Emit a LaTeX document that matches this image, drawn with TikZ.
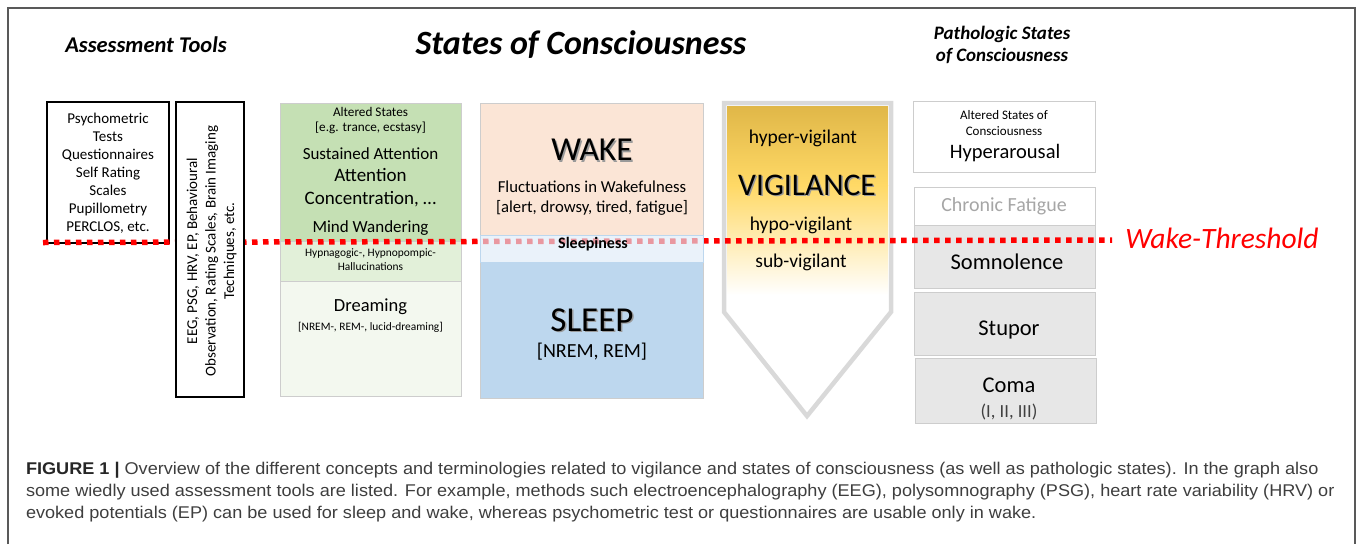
\documentclass[tikz,border=0pt]{standalone}
\usepackage{fontspec}
\setmainfont{Carlito}
\newfontfamily\capfont[FakeStretch=1.065]{Liberation Sans}
\newcommand{\fsz}[2]{\fontsize{#1}{#2}\selectfont}

\definecolor{altgreen}{RGB}{197,224,180}
\definecolor{hypgreen}{RGB}{226,240,217}
\definecolor{dreamgreen}{RGB}{243,248,239}
\definecolor{wakepink}{RGB}{251,229,214}
\definecolor{sleepblue}{RGB}{189,215,238}
\definecolor{sleepyblue}{RGB}{222,235,247}
\definecolor{vigigold}{RGB}{224,183,72}
\definecolor{vigiyellow}{RGB}{255,217,102}
\definecolor{pathgray}{RGB}{231,231,231}
\definecolor{edgegray}{RGB}{205,205,205}
\definecolor{threshred}{RGB}{255,0,0}
\definecolor{captext}{RGB}{62,62,62}

\begin{document}
\begin{tikzpicture}[x=1pt,y=-1pt,
    every node/.style={inner sep=0pt,outer sep=0pt},
    tool/.style={draw=black,line width=1.8pt,fill=white,anchor=north west},
    state/.style={draw=edgegray,line width=1pt,anchor=north west},
    patho/.style={draw=edgegray,line width=1pt,fill=pathgray,anchor=north west,minimum width=181},
    head/.style={font=\fsz{#1}{#1}\bfseries\itshape},
    txt/.style={font=\fsz{#1}{#1}},
    shadowtxt/.style={font=\fsz{#1}{#1},text=black!40},
    threshold/.style={draw=threshred,line width=5.5pt,dash pattern=on 5.5pt off 5.5pt}]
\useasboundingbox (0,0) rectangle (1358,544);
\draw[black!65,line width=1.5pt] (8,544) -- (8,8) -- (1355,8) -- (1355,544);

% headings
\node[head=22.5] (toolshead) at (146,45) {Assessment Tools};
\node[head=34] (stateshead) at (581,45) {States of Consciousness};
\node[align=center,font=\fsz{19}{22}\bfseries\itshape] (pathohead) at (1002,45) {Pathologic States\\of Consciousness};

% columns
\node[tool,minimum width=122,minimum height=141] (psy) at (47,102) {};
\node[state,fill=altgreen,minimum width=181,minimum height=138] (alt) at (280,103) {};
\node[state,fill=hypgreen,minimum width=181,minimum height=40] (hyp) at (280,241) {};
\node[state,fill=dreamgreen,minimum width=181,minimum height=115] (dream) at (280,281) {};
\node[state,fill=wakepink,minimum width=223,minimum height=132] (wake) at (480,103) {};
\node[state,fill=sleepblue,minimum width=223,minimum height=136] (sleep) at (480,262) {};
\shade[top color=vigigold,bottom color=vigiyellow] (727,106) rectangle (888,185);
\shade[top color=vigiyellow,bottom color=white] (727,185) rectangle (888,295);
\draw[black!15,line width=4.5pt] (724,103) -- (891,103) -- (891,312) -- (807,416) -- (724,312) -- cycle;
\node[state,fill=white,minimum width=182,minimum height=71] (hyper) at (913,101) {};
\node[state,fill=white,minimum width=181,minimum height=38] (fatigue) at (914,187) {};
\node[patho,minimum height=63] (somno) at (914,225) {};
\node[patho,minimum height=63] (stupor) at (914,292) {};
\node[patho,minimum height=65] (coma) at (915,358) {};

% wake threshold
\coordinate (thrstart) at (43,242.5);
\coordinate (thrend) at (1112,240);
\draw[threshold] (thrstart) -- (thrend);
\node[font=\fsz{29.5}{29.5}\itshape,text=threshred] (thrlabel) at (1222,238) {Wake-Threshold};
\node[tool,minimum width=68,minimum height=295] (phys) at (176,102) {};
\node[state,draw=sleepblue,fill=sleepyblue,fill opacity=0.65,minimum width=223,minimum height=27] (sleepy) at (480,235) {};

% texts
\node[align=center,font=\fsz{15}{18}] (psytxt) at (108,173) {Psychometric\\Tests\\Questionnaires\\Self Rating\\Scales\\Pupillometry\\PERCLOS, etc.};
\node[rotate=90,align=center,font=\fsz{15}{18.5}] (phystxt) at (211.5,251) {EEG, PSG, HRV, EP, Behavioural\\Observation, Rating Scales, Brain Imaging\\Techniques, etc.};

\node[align=center,font=\fsz{13.2}{15.5}] (alttxt) at (370.5,120.5) {Altered States\\{[e.g. trance, ecstasy]}};
\node[txt=17] (susttxt) at (370.5,154) {Sustained Attention};
\node[align=center,font=\fsz{19}{23}] (conctxt) at (370.5,187.5) {Attention\\Concentration, …};
\node[txt=17] (mindtxt) at (370.5,228) {Mind Wandering};
\node[align=center,font=\fsz{11.4}{14}] (hyptxt) at (370.5,260) {Hypnagogic-, Hypnopompic-\\Hallucinations};
\node[txt=18.5] (dreamtxt) at (370.5,307) {Dreaming};
\node[txt=11.4] (dreamsub) at (370.5,327) {[NREM-, REM-, lucid-dreaming]};

\node[shadowtxt=33.5] at (593.5,151.5) {WAKE};
\node[txt=33.5] (waketxt) at (592,150) {WAKE};
\node[align=center,font=\fsz{16.7}{20}] (fluct) at (592,198) {Fluctuations in Wakefulness\\{[alert, drowsy, tired, fatigue]}};
\node[font=\fsz{16}{16}\bfseries] (sleepytxt) at (593,244) {Sleepiness};
\node[shadowtxt=35] at (593.5,321.5) {SLEEP};
\node[txt=35] (sleeptxt) at (592,320) {SLEEP};
\node[txt=20] (nremtxt) at (592,352) {[NREM, REM]};

\node[txt=19.5] (hypervig) at (803,138) {hyper-vigilant};
\node[shadowtxt=31.5] at (808.5,186.5) {VIGILANCE};
\node[txt=31.5] (vigtxt) at (807,185) {VIGILANCE};
\node[txt=19.5] (hypovig) at (801,225) {hypo-vigilant};
\node[txt=19.5] (subvig) at (801,262) {sub-vigilant};

\node[align=center,font=\fsz{13}{15.5}] (hypertxt) at (1004,123) {Altered States of\\Consciousness};
\node[txt=20.5] (hyperarousal) at (1005,153) {Hyperarousal};
\node[txt=20,text=black!35] (fatiguetxt) at (1004,206.5) {Chronic Fatigue};
\node[txt=22.5] (somnotxt) at (1007,261.5) {Somnolence};
\node[txt=22.5] (stuportxt) at (1009,330) {Stupor};
\node[txt=22.5] (comatxt) at (1009,385) {Coma};
\node[txt=18.5,text=black!75] (comasub) at (1009,412) {(I, II, III)};

% caption
\node[anchor=base west,font=\capfont\fsz{17}{22},text=captext] (cap1) at (26,474) {{\bfseries\color{black!85}FIGURE 1 |} Overview of the different concepts and terminologies related to vigilance and states of consciousness (as well as pathologic states). In the graph also};
\node[anchor=base west,font=\capfont\fsz{17}{22},text=captext] (cap2) at (26,496) {some wiedly used assessment tools are listed. For example, methods such electroencephalography (EEG), polysomnography (PSG), heart rate variability (HRV) or};
\node[anchor=base west,font=\capfont\fsz{17}{22},text=captext] (cap3) at (26,518) {evoked potentials (EP) can be used for sleep and wake, whereas psychometric test or questionnaires are usable only in wake.};
\end{tikzpicture}
\end{document}
